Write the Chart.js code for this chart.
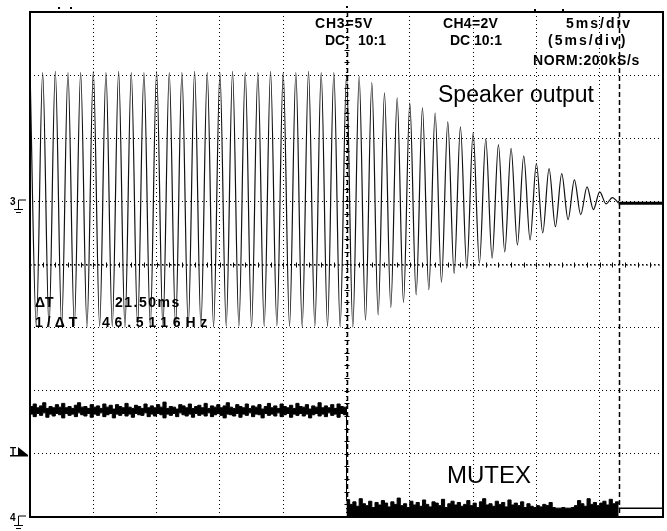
<!DOCTYPE html>
<html>
<head>
<meta charset="utf-8">
<title>Speaker output / MUTEX</title>
<script src="https://cdn.jsdelivr.net/npm/chart.js@4/dist/chart.umd.min.js"></script>
<style>
  html, body { margin: 0; padding: 0; background: #fff; }
  #wrap { width: 667px; height: 531px; }
</style>
</head>
<body>
<div id="wrap"><canvas id="scope" width="667" height="531"></canvas></div>
<script>
// Scope screen: 10 x 5 ms horizontally, 8 divisions vertically

// CH3 speaker output, 5 V/div, ground one division above centre.
// Peak volts of each cycle of the 1 kHz tone.
const speakerPeriodMs = 1.0;
const speakerTops = [
  10.4, 10.2, 10.3, 10.2, 10.2, 10.3, 10.2, 10.3, 10.2, 10.2,
  10.3, 10.2, 10.2, 10.3, 10.2, 10.2, 10.3, 10.2, 10.2, 10.3,
  10.2, 10.2, 10.3, 10.2, 10.2,
  10.0, 9.9, 9.4, 8.6, 8.2, 7.8, 7.4, 7.0, 6.3, 5.9,
  5.4, 4.95, 4.5, 4.2, 3.6, 3.0, 2.6, 2.2, 1.7, 1.15,
  0.75, 0.3
];
const speakerBottoms = [
  -9.9, -9.95, -9.9, -9.85, -9.95, -9.9, -9.9, -9.95, -9.85, -9.9,
  -9.95, -9.9, -9.9, -9.85, -9.95, -9.9, -9.9, -9.95, -9.9, -9.85,
  -9.9, -9.95, -9.9, -9.9, -9.95,
  -9.95, -9.4, -9.0, -8.4, -8.0, -7.4, -7.0, -6.4, -5.7, -5.3,
  -4.9, -4.5, -4.0, -3.45, -3.05, -2.5, -2.0, -1.45, -1.05, -0.65,
  -0.2
];
const speakerRestV = -0.15;

// CH4 MUTEX, 2 V/div, ground at the bottom edge.
// Max / min volts of each 0.25 ms bin.
const mutexStepMs = 0.25;
const mutexHighMax = [
  3.50, 3.58, 3.46, 3.52, 3.62, 3.44, 3.50, 3.46, 3.56, 3.48,
  3.60, 3.46, 3.50, 3.44, 3.54, 3.62, 3.48, 3.50, 3.44, 3.56,
  3.48, 3.52, 3.44, 3.58, 3.48, 3.54, 3.42, 3.56, 3.50, 3.46,
  3.60, 3.48, 3.44, 3.54, 3.50, 3.44, 3.58, 3.46, 3.52, 3.46,
  3.56, 3.48, 3.64, 3.44, 3.50, 3.48, 3.42, 3.56, 3.52, 3.46,
  3.58, 3.44, 3.50, 3.54, 3.46, 3.60, 3.44, 3.52, 3.48, 3.56,
  3.46, 3.52, 3.62, 3.48, 3.44, 3.56, 3.50, 3.46, 3.58, 3.44,
  3.52, 3.48, 3.56, 3.42, 3.50, 3.60, 3.46, 3.52, 3.44, 3.58,
  3.50, 3.46, 3.54, 3.44, 3.60, 3.50, 3.48, 3.56, 3.42, 3.52,
  3.48, 3.62, 3.46, 3.52, 3.46, 3.56, 3.44, 3.58, 3.50, 3.48,
  3.50
];
const mutexHighMin = [
  3.26, 3.18, 3.28, 3.22, 3.30, 3.16, 3.26, 3.20, 3.28, 3.24,
  3.14, 3.28, 3.22, 3.26, 3.18, 3.30, 3.24, 3.20, 3.28, 3.16,
  3.26, 3.22, 3.30, 3.18, 3.24, 3.28, 3.14, 3.26, 3.22, 3.28,
  3.20, 3.26, 3.16, 3.28, 3.24, 3.22, 3.30, 3.18, 3.26, 3.20,
  3.28, 3.24, 3.14, 3.26, 3.22, 3.28, 3.18, 3.30, 3.24, 3.20,
  3.26, 3.16, 3.28, 3.22, 3.26, 3.20, 3.30, 3.18, 3.24, 3.28,
  3.22, 3.14, 3.26, 3.24, 3.20, 3.28, 3.16, 3.26, 3.22, 3.30,
  3.18, 3.26, 3.24, 3.14, 3.28, 3.22, 3.26, 3.20, 3.30, 3.18,
  3.24, 3.28, 3.16, 3.26, 3.22, 3.28, 3.20, 3.26, 3.14, 3.24,
  3.28, 3.20, 3.26, 3.18, 3.30, 3.22, 3.26, 3.16, 3.28, 3.24,
  3.24
];
// after the edge the noise sits on ground; only the bin maxima show
const mutexLowMax = [
  0.55, 0.40, 0.48, 0.34, 0.58, 0.42, 0.36, 0.50, 0.30, 0.46,
  0.38, 0.52, 0.44, 0.32, 0.48, 0.40, 0.60, 0.36, 0.42, 0.30,
  0.50, 0.38, 0.46, 0.34, 0.54, 0.40, 0.32, 0.48, 0.44, 0.36,
  0.56, 0.30, 0.42, 0.50, 0.38, 0.46, 0.34, 0.40, 0.52, 0.36,
  0.44, 0.30, 0.48, 0.58, 0.38, 0.42, 0.34, 0.50, 0.40, 0.46,
  0.32, 0.54, 0.38, 0.44, 0.36, 0.48, 0.30, 0.42, 0.34, 0.30,
  0.36, 0.32, 0.40, 0.36, 0.46, 0.30, 0.28, 0.28, 0.30, 0.28,
  0.28, 0.30, 0.36, 0.52, 0.42, 0.34, 0.58, 0.40, 0.46, 0.36,
  0.44, 0.50, 0.38, 0.56, 0.42, 0.48, 0.40
];
const mutexRestV = 0.28;

const cursorsMs = [25, 46.5];
const timeRange = [0, 50];
const divRange = [-4, 4];

// screen divisions for each channel
const ch3 = v => v / 5 + 1;
const ch4 = v => v / 2 - 4;

const speakerPts = [];
speakerTops.forEach((v, i) => {
  speakerPts.push({ x: i * speakerPeriodMs, y: ch3(v) });
  if (i < speakerBottoms.length) {
    speakerPts.push({ x: (i + 0.5) * speakerPeriodMs, y: ch3(speakerBottoms[i]) });
  }
});
speakerPts.push({ x: cursorsMs[1], y: ch3(speakerRestV) });

const binPts = (arr, t0) => arr.map((v, i) => ({ x: t0 + i * mutexStepMs, y: ch4(v) }));
const highMaxPts = binPts(mutexHighMax, 0);
const highMinPts = binPts(mutexHighMin, 0);
const lowPts = binPts(mutexLowMax, cursorsMs[0]);
// falling edge at the first cursor
highMaxPts.push({ x: cursorsMs[0], y: ch4(mutexLowMax[0]) });
highMinPts.push({ x: cursorsMs[0], y: ch4(mutexLowMax[0]) });

const scopeText = [
  { t: 'CH3=5V', x: 315, y: 28, s: 0.8 },
  { t: 'DC', x: 325, y: 45 },
  { t: '10:1', x: 358, y: 45 },
  { t: 'CH4=2V', x: 443, y: 28, s: 0.3 },
  { t: 'DC', x: 450, y: 45 },
  { t: '10:1', x: 474, y: 45 },
  { t: '5ms/div', x: 566, y: 28, s: 2 },
  { t: '(5ms/div)', x: 548, y: 45, s: 2 },
  { t: 'NORM:200kS/s', x: 533, y: 65, s: 0.6 },
  { t: '\u0394T', x: 35, y: 307 },
  { t: '21.50ms', x: 115, y: 307, s: 1.5 },
  { t: '1/\u0394T', x: 35, y: 327, s: 4 },
  { t: '46.5116Hz', x: 102, y: 327, s: 4.8 },
];

const decor = {
  id: 'decor',
  afterDatasetsDraw(chart) {
    const { ctx, chartArea: a, scales: { x, y } } = chart;
    ctx.save();
    ctx.strokeStyle = '#000';
    ctx.fillStyle = '#000';

    // centre axes with minor ticks
    const yc = y.getPixelForValue(0), xc = x.getPixelForValue(25);
    ctx.lineWidth = 1;
    ctx.setLineDash([2, 2]);
    ctx.beginPath();
    ctx.moveTo(a.left, yc + 0.5); ctx.lineTo(a.right, yc + 0.5);
    ctx.stroke();
    ctx.setLineDash([]);
    ctx.beginPath();
    for (let t = 1; t < 50; t++) {
      const px = Math.round(x.getPixelForValue(t)) + 0.5;
      ctx.moveTo(px, yc - 2); ctx.lineTo(px, yc + 3);
    }
    for (let d = -3.8; d < 4; d += 0.2) {
      const py = Math.round(y.getPixelForValue(d)) + 0.5;
      ctx.moveTo(xc - 2, py); ctx.lineTo(xc + 3, py);
    }
    ctx.stroke();

    // time cursors
    ctx.lineWidth = 1.5;
    ctx.setLineDash([5, 3]);
    ctx.beginPath();
    cursorsMs.forEach(t => {
      const px = Math.round(x.getPixelForValue(t)) + 0.5;
      ctx.moveTo(px, a.top); ctx.lineTo(px, a.bottom);
    });
    ctx.stroke();
    ctx.setLineDash([]);

    // frame
    ctx.lineWidth = 2;
    ctx.strokeRect(a.left, a.top, a.right - a.left, a.bottom - a.top);

    // small markers above the frame
    [[58, 7], [70, 7], [346, 6], [534, 9], [562, 9]].forEach(([px, py]) => ctx.fillRect(px, py, 2, 2));

    // channel ground / trigger markers on the left
    const gnd = (label, py) => {
      ctx.font = 'bold 10px "Liberation Sans"';
      ctx.fillText(label, 10, py + 4);
      ctx.lineWidth = 1;
      ctx.beginPath();
      ctx.moveTo(18.5, py + 8); ctx.lineTo(18.5, py - 1);
      ctx.lineTo(26, py - 1);
      ctx.moveTo(14, py + 8.5); ctx.lineTo(23, py + 8.5);
      ctx.moveTo(16, py + 11.5); ctx.lineTo(21, py + 11.5);
      ctx.stroke();
    };
    gnd('3', Math.round(y.getPixelForValue(1)));
    gnd('4', Math.round(y.getPixelForValue(-4)));
    const ty = Math.round(y.getPixelForValue(-3));
    ctx.font = 'bold 10px "Liberation Sans"';
    ctx.fillText('T', 10, ty + 1);
    ctx.fillRect(10, ty + 1, 18, 1.5);
    ctx.beginPath();
    ctx.moveTo(18, ty - 7); ctx.lineTo(28, ty + 1); ctx.lineTo(18, ty + 1);
    ctx.closePath(); ctx.fill();

    // readouts
    ctx.textBaseline = 'alphabetic';
    ctx.font = 'bold 14px "Liberation Sans"';
    scopeText.forEach(o => {
      ctx.letterSpacing = (o.s || 0) + 'px';
      ctx.fillText(o.t, o.x, o.y);
    });
    ctx.letterSpacing = '0px';
    ctx.font = '23px "Liberation Sans"';
    ctx.fillText('Speaker output', 438, 102);
    ctx.font = '24px "Liberation Sans"';
    ctx.fillText('MUTEX', 447, 483);
    ctx.restore();
  }
};

new Chart(document.getElementById('scope'), {
  type: 'line',
  data: {
    datasets: [
      { data: speakerPts, borderColor: '#111', borderWidth: 1.2, cubicInterpolationMode: 'monotone' },
      { data: [{ x: cursorsMs[1], y: ch3(speakerRestV) }, { x: timeRange[1], y: ch3(speakerRestV) }],
        borderColor: '#000', borderWidth: 3 },
      { data: highMaxPts, borderColor: '#000', borderWidth: 1, stepped: true, fill: '+1', backgroundColor: '#000' },
      { data: highMinPts, borderColor: '#000', borderWidth: 1, stepped: true },
      { data: lowPts, borderColor: '#000', borderWidth: 1, stepped: true, fill: 'start', backgroundColor: '#000' },
      { data: [{ x: cursorsMs[1], y: ch4(mutexRestV) }, { x: timeRange[1], y: ch4(mutexRestV) }],
        borderColor: '#000', borderWidth: 1.5 },
    ]
  },
  options: {
    responsive: false,
    animation: false,
    devicePixelRatio: 1,
    parsing: false,
    layout: { padding: { left: 30, top: 12, right: 4, bottom: 14 } },
    elements: { point: { radius: 0 }, line: { tension: 0 } },
    plugins: { legend: { display: false }, tooltip: { enabled: false } },
    scales: {
      x: {
        type: 'linear', min: timeRange[0], max: timeRange[1],
        ticks: { display: false, stepSize: 5 },
        grid: { color: '#000', lineWidth: 1, drawTicks: false },
        border: { display: false, dash: [1, 3] }
      },
      y: {
        min: divRange[0], max: divRange[1],
        ticks: { display: false, stepSize: 1 },
        grid: { color: '#000', lineWidth: 1, drawTicks: false },
        border: { display: false, dash: [1, 3] }
      }
    }
  },
  plugins: [decor]
});
</script>
</body>
</html>
